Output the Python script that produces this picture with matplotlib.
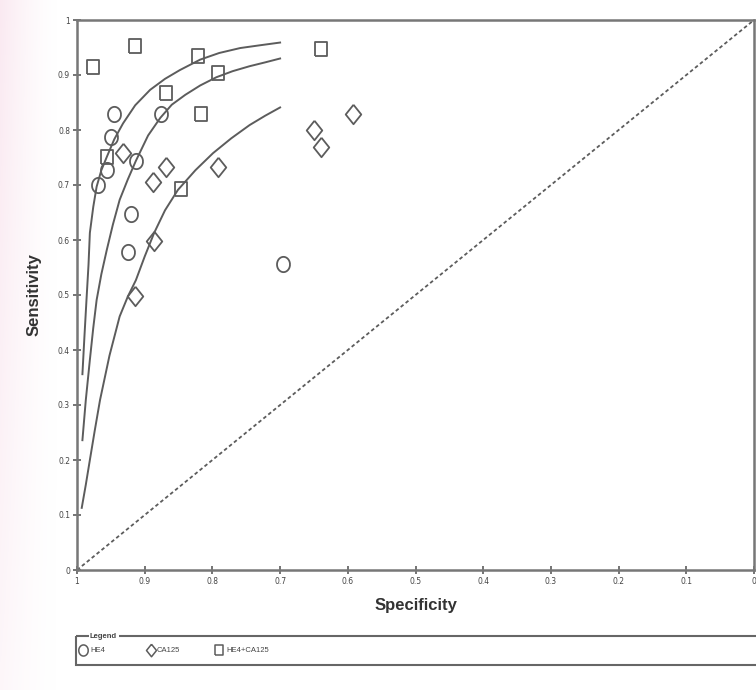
import numpy as np
import matplotlib.pyplot as plt
from matplotlib.patches import Rectangle

# puntos de los estudios (especificidad, sensibilidad)
he4_spec = [0.945, 0.950, 0.955, 0.969, 0.876, 0.913, 0.920, 0.924, 0.695]
he4_sens = [0.829, 0.788, 0.727, 0.700, 0.829, 0.744, 0.647, 0.578, 0.556]

ca125_spec = [0.932, 0.888, 0.869, 0.886, 0.914, 0.791, 0.650, 0.640, 0.593]
ca125_sens = [0.759, 0.705, 0.732, 0.598, 0.499, 0.732, 0.800, 0.770, 0.830]

comb_spec = [0.976, 0.914, 0.821, 0.792, 0.868, 0.817, 0.956, 0.847, 0.640]
comb_sens = [0.915, 0.953, 0.935, 0.904, 0.867, 0.829, 0.751, 0.693, 0.947]

# curvas SROC
top_spec = [0.992, 0.989, 0.986, 0.983, 0.981, 0.976, 0.971, 0.964, 0.956, 0.945,
            0.932, 0.914, 0.892, 0.870, 0.848, 0.818, 0.790, 0.759, 0.730, 0.700]
top_sens = [0.356, 0.425, 0.491, 0.555, 0.613, 0.660, 0.697, 0.727, 0.751, 0.783,
            0.812, 0.845, 0.873, 0.893, 0.909, 0.928, 0.940, 0.949, 0.954, 0.959]

mid_spec = [0.992, 0.987, 0.981, 0.976, 0.971, 0.964, 0.956, 0.947, 0.937, 0.925,
            0.913, 0.895, 0.877, 0.860, 0.840, 0.818, 0.794, 0.770, 0.745, 0.722, 0.700]
mid_sens = [0.236, 0.309, 0.382, 0.440, 0.491, 0.538, 0.582, 0.628, 0.673, 0.710,
            0.744, 0.790, 0.822, 0.846, 0.864, 0.881, 0.896, 0.907, 0.916, 0.923, 0.930]

low_spec = [0.993, 0.987, 0.981, 0.974, 0.966, 0.952, 0.937, 0.925, 0.913, 0.900,
            0.886, 0.870, 0.851, 0.825, 0.799, 0.772, 0.745, 0.722, 0.700]
low_sens = [0.113, 0.155, 0.200, 0.252, 0.309, 0.390, 0.461, 0.497, 0.527, 0.570,
            0.613, 0.654, 0.691, 0.727, 0.758, 0.785, 0.809, 0.826, 0.841]

x_ticks = [1, 0.9, 0.8, 0.7, 0.6, 0.5, 0.4, 0.3, 0.2, 0.1, 0]
x_labels = ['1', '0.9', '0.8', '0.7', '0.6', '0.5', '0.4', '0.3', '0.2', '0.1', '0']
y_ticks = [0, 0.1, 0.2, 0.3, 0.4, 0.5, 0.6, 0.7, 0.8, 0.9, 1]
y_labels = ['0', '0.1', '0.2', '0.3', '0.4', '0.5', '0.6', '0.7', '0.8', '0.9', '1']

gris = '#5c5c5c'
fuente = ['Liberation Sans', 'DejaVu Sans']

# marcadores un poco estirados en vertical, como en la imagen
t = np.linspace(0, 2 * np.pi, 40)
ellipse = list(zip(0.85 * np.cos(t), np.sin(t)))
diamond = [(0, 1), (0.8, 0), (0, -1), (-0.8, 0), (0, 1)]
square = [(-0.85, -1), (0.85, -1), (0.85, 1), (-0.85, 1), (-0.85, -1)]

fig = plt.figure(figsize=(7.56, 6.9), dpi=100)

# fondo con degradado rosado a la izquierda
bg = fig.add_axes([0, 0, 1, 1], zorder=-1)
grad = np.linspace(1, 0, 60) ** 1.5
vert = np.linspace(0.4, 1, 100)[:, None]
alpha = grad[None, :] * vert
img = np.ones((100, 60, 4))
img[..., 0] = 0.97
img[..., 1] = 0.86
img[..., 2] = 0.91
img[..., 3] = alpha * 0.6
bg.imshow(img, extent=[0, 60, 0, 690], aspect='auto', origin='lower')
bg.set_xlim(0, 756)
bg.set_ylim(0, 690)
bg.axis('off')

ax = fig.add_axes([77 / 756, 120 / 690, 677 / 756, 550 / 690])
ax.set_facecolor('none')

ax.plot([1, 0], [0, 1], color=gris, lw=1.3, ls=(0, (2, 1.5)))

for s, v in [(top_spec, top_sens), (mid_spec, mid_sens), (low_spec, low_sens)]:
    ax.plot(s, v, color=gris, lw=1.4)

ax.plot(he4_spec, he4_sens, ls='none', marker=ellipse, ms=11, mfc='none', mec=gris, mew=1.3)
ax.plot(ca125_spec, ca125_sens, ls='none', marker=diamond, ms=14, mfc='none', mec=gris, mew=1.3)
ax.plot(comb_spec, comb_sens, ls='none', marker=square, ms=10, mfc='none', mec=gris, mew=1.3)

ax.set_xlim(1, 0)
ax.set_ylim(0, 1)
ax.set_xticks(x_ticks)
ax.set_xticklabels(x_labels)
ax.set_yticks(y_ticks)
ax.set_yticklabels(y_labels)
ax.tick_params(direction='inout', length=6, width=1.2, color=gris, labelsize=5.5,
               labelcolor='#444444', pad=2)
for sp in ax.spines.values():
    sp.set_color('#777777')
    sp.set_linewidth(1.8)

ax.set_xlabel('Specificity', fontsize=12, fontweight='bold', family=fuente,
              color='#333333', labelpad=9)
ax.set_ylabel('Sensitivity', fontsize=12, fontweight='bold', family=fuente,
              color='#333333', labelpad=12)

# leyenda dibujada a mano en coordenadas de pixel
lg = fig.add_axes([0, 0, 1, 1], zorder=2)
lg.set_xlim(0, 756)
lg.set_ylim(690, 0)
lg.axis('off')
lg.add_patch(Rectangle((76, 636), 700, 29, fill=False, ec='#666666', lw=1.5))
lg.text(90, 636, 'Legend', fontsize=5.5, fontweight='bold', family=fuente,
        color='#444444', va='center', ha='left',
        bbox=dict(fc='white', ec='none', pad=1))
lg.plot([83], [650], ls='none', marker=ellipse, ms=8, mfc='none', mec=gris, mew=1.1)
lg.text(90, 651, 'HE4', fontsize=5.5, family=fuente, color='#444444', va='center')
lg.plot([151], [650], ls='none', marker=diamond, ms=9, mfc='none', mec=gris, mew=1.1)
lg.text(157, 651, 'CA125', fontsize=5.5, family=fuente, color='#444444', va='center')
lg.plot([219], [650], ls='none', marker=square, ms=7, mfc='none', mec=gris, mew=1.1)
lg.text(226, 651, 'HE4+CA125', fontsize=5.5, family=fuente, color='#444444', va='center')

fig.savefig('out.png', dpi=100)
